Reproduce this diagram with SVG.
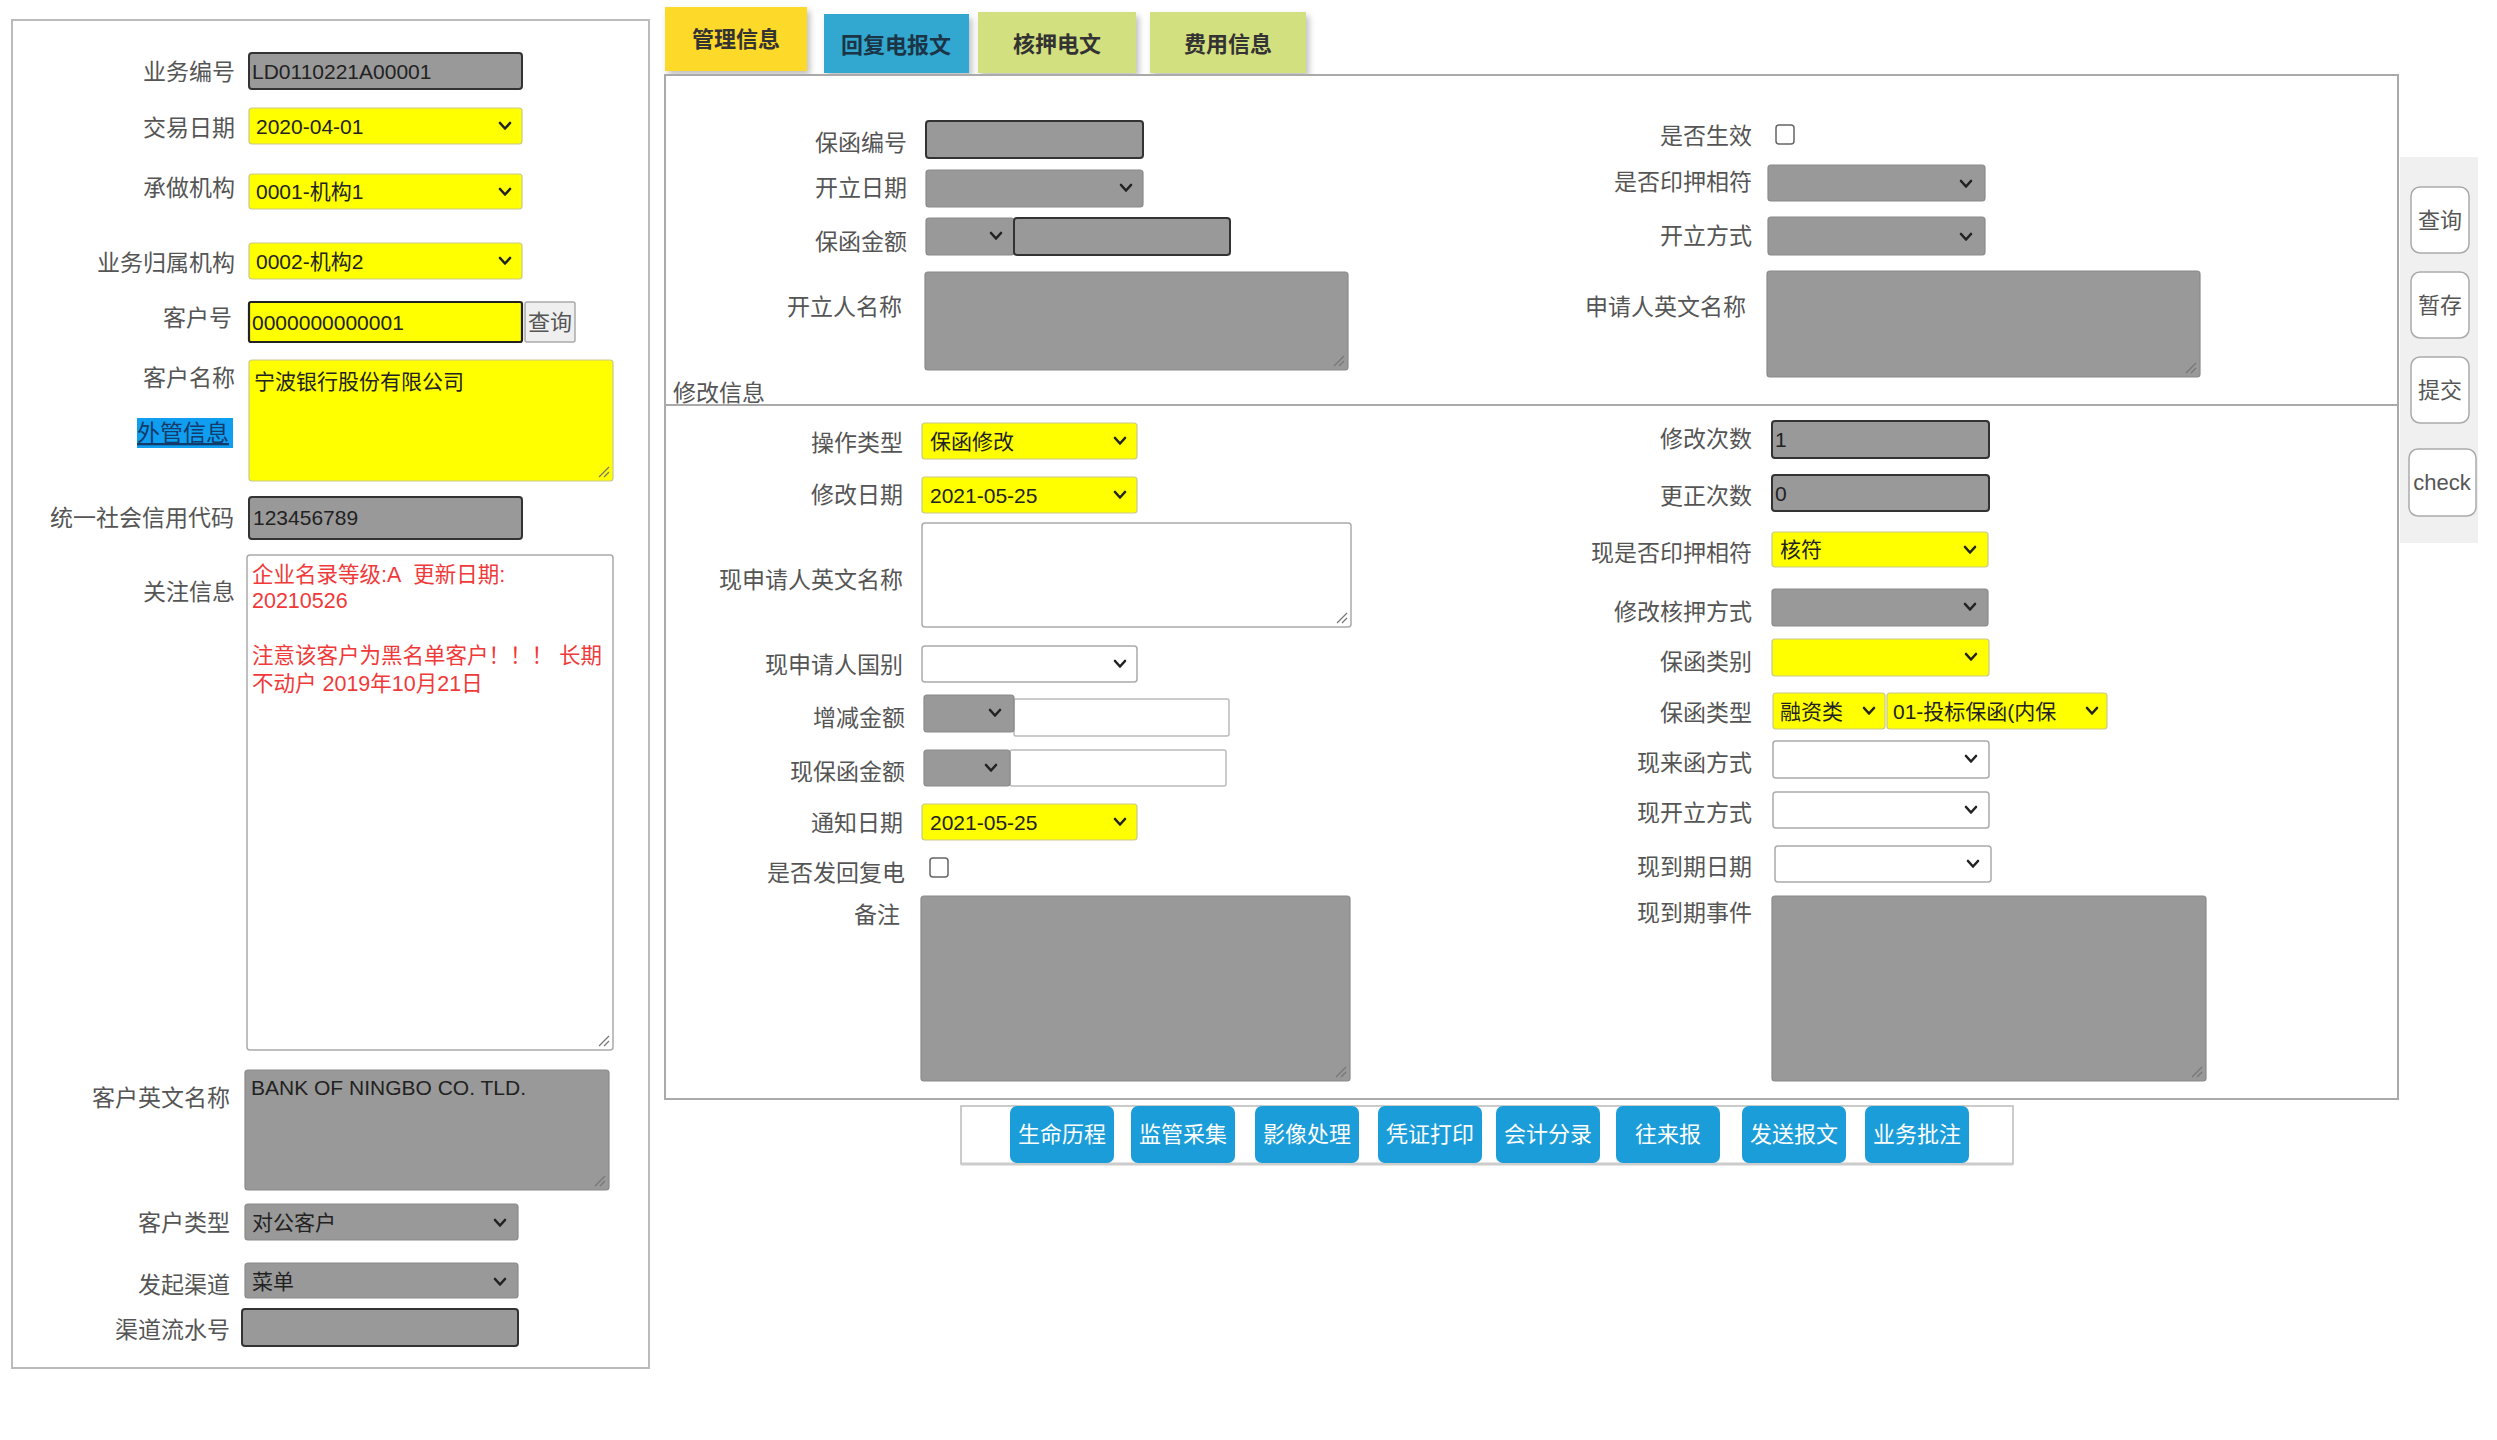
<svg xmlns="http://www.w3.org/2000/svg" xmlns:xlink="http://www.w3.org/1999/xlink" width="2497" height="1440" viewBox="0 0 2497 1440">
<defs>
<style>
text{font-family:"Liberation Sans","Noto Sans CJK SC",sans-serif}
.lbl{font-size:23px;fill:#555;text-anchor:end}
.val{font-size:21px;fill:#222}
.red{font-size:21.5px;fill:#f03a3a}
.g{fill:#999;stroke:#8a8a8a;stroke-width:1.2}
.gi{fill:#999;stroke:#333;stroke-width:2}
.y{fill:#ffff00;stroke:#c9c98c;stroke-width:1.2}
.w{fill:#fff;stroke:#aaa;stroke-width:1.5}
.chev{fill:none;stroke:#222;stroke-width:2.6;stroke-linecap:round;stroke-linejoin:round}
.grip{stroke:#777;stroke-width:1.3}
.tab{font-size:22px;font-weight:bold;text-anchor:middle}
.btn{fill:#1a9dd8}
.btxt{font-size:22px;fill:#fff;text-anchor:middle}
.rbtn{fill:#fff;stroke:#aaa;stroke-width:1.5}
.rtxt{font-size:22px;fill:#555;text-anchor:middle}
.cb{fill:#fff;stroke:#666;stroke-width:1.5}
</style>
<path id="chev" class="chev" d="M-5,-3 L0,2.5 L5,-3"/>
<g id="grip"><line class="grip" x1="-12" y1="-2" x2="-2" y2="-12"/><line class="grip" x1="-7" y1="-2" x2="-2" y2="-7"/></g>
<filter id="sh" x="-10%" y="-10%" width="130%" height="140%"><feDropShadow dx="3" dy="4" stdDeviation="3" flood-color="#000" flood-opacity="0.25"/></filter>
</defs>
<rect width="2497" height="1440" fill="#fff"/>

<g id="left-panel">
<rect x="12" y="20" width="637" height="1348" fill="#fff" stroke="#bbb" stroke-width="2"/>
<g id="f-ywbh"><text class="lbl" x="235" y="80">业务编号</text><rect class="gi" x="249" y="53" width="273" height="36" rx="3"/><text class="val" x="252" y="79">LD0110221A00001</text></g>
<g id="f-jyrq"><text class="lbl" x="235" y="136">交易日期</text><rect class="y" x="249" y="108" width="273" height="36" rx="3"/><text class="val" x="256" y="134">2020-04-01</text><use href="#chev" x="505" y="126"/></g>
<g id="f-czjg"><text class="lbl" x="235" y="196">承做机构</text><rect class="y" x="249" y="174" width="273" height="35" rx="3"/><text class="val" x="256" y="199">0001-机构1</text><use href="#chev" x="505" y="192"/></g>
<g id="f-ywgsjg"><text class="lbl" x="235" y="271">业务归属机构</text><rect class="y" x="249" y="243" width="273" height="36" rx="3"/><text class="val" x="256" y="269">0002-机构2</text><use href="#chev" x="505" y="261"/></g>
<g id="f-khh"><text class="lbl" x="232" y="326">客户号</text><rect x="249" y="302" width="273" height="40" fill="#ffff00" stroke="#222" stroke-width="2.2" rx="2"/><text class="val" x="252" y="330">0000000000001</text><rect x="525" y="302" width="50" height="40" fill="#efefef" stroke="#aaa" stroke-width="1.5" rx="2"/><text class="rtxt" x="550" y="330">查询</text></g>
<g id="f-khmc"><text class="lbl" x="235" y="386">客户名称</text><rect class="y" x="249" y="360" width="364" height="121" rx="3"/><text class="val" x="254" y="389">宁波银行股份有限公司</text><use href="#grip" x="611" y="479"/></g>
<g id="f-wgxx"><rect x="137" y="418" width="96" height="30" fill="#0f9ef0"/><text x="137" y="441" font-size="23" fill="#123a6a" text-decoration="underline">外管信息</text></g>
<g id="f-tyshxydm"><text class="lbl" x="234" y="526">统一社会信用代码</text><rect class="gi" x="249" y="497" width="273" height="42" rx="3"/><text class="val" x="253" y="525">123456789</text></g>
<g id="f-gzxx"><text class="lbl" x="235" y="600">关注信息</text><rect class="w" x="247" y="555" width="366" height="495" rx="3"/>
<text class="red" x="252" y="582">企业名录等级:A&#160;&#160;更新日期:</text>
<text class="red" x="252" y="608">20210526</text>
<text class="red" x="252" y="663">注意该客户为黑名单客户！！！&#160;长期</text>
<text class="red" x="252" y="691">不动户 2019年10月21日</text>
<use href="#grip" x="611" y="1048"/></g>
<g id="f-khywmc"><text class="lbl" x="230" y="1106">客户英文名称</text><rect class="g" x="245" y="1070" width="364" height="120" rx="3"/><text class="val" x="251" y="1095">BANK OF NINGBO CO. TLD.</text><use href="#grip" x="607" y="1188"/></g>
<g id="f-khlx"><text class="lbl" x="230" y="1231">客户类型</text><rect class="g" x="245" y="1204" width="273" height="36" rx="3"/><text class="val" x="252" y="1230">对公客户</text><use href="#chev" x="500" y="1223"/></g>
<g id="f-fqqd"><text class="lbl" x="230" y="1293">发起渠道</text><rect class="g" x="245" y="1263" width="273" height="35" rx="3"/><text class="val" x="252" y="1289">菜单</text><use href="#chev" x="500" y="1282"/></g>
<g id="f-qdlsh"><text class="lbl" x="230" y="1338">渠道流水号</text><rect class="gi" x="242" y="1309" width="276" height="37" rx="3"/></g>
</g>

<g id="tabs">
<g id="tab-glxx"><rect x="665" y="7" width="142" height="64" fill="#fdd92a" filter="url(#sh)"/><text class="tab" x="736" y="47" fill="#333">管理信息</text></g>
<g id="tab-hfdbw"><rect x="824" y="14" width="145" height="59" fill="#33a8d0" filter="url(#sh)"/><text class="tab" x="896" y="53" fill="#1b3446">回复电报文</text></g>
<g id="tab-hydw"><rect x="978" y="12" width="158" height="61" fill="#d3e07f" filter="url(#sh)"/><text class="tab" x="1057" y="52" fill="#333">核押电文</text></g>
<g id="tab-fyxx"><rect x="1150" y="12" width="156" height="61" fill="#d3e07f" filter="url(#sh)"/><text class="tab" x="1228" y="52" fill="#333">费用信息</text></g>
</g>

<g id="main-panel">
<rect x="665" y="75" width="1733" height="1024" fill="#fff" stroke="#aaa" stroke-width="2"/>
<text x="673" y="401" font-size="23" fill="#555">修改信息</text>
<line x1="665" y1="405" x2="2398" y2="405" stroke="#aaa" stroke-width="2"/>
</g>

<g id="top-left-fields">
<g id="f-bhbh"><text class="lbl" x="907" y="151">保函编号</text><rect class="gi" x="926" y="121" width="217" height="37" rx="3"/></g>
<g id="f-klrq"><text class="lbl" x="907" y="196">开立日期</text><rect class="g" x="926" y="170" width="217" height="37" rx="3"/><use href="#chev" x="1126" y="188"/></g>
<g id="f-bhje"><text class="lbl" x="907" y="250">保函金额</text><rect class="g" x="926" y="218" width="88" height="37" rx="3"/><use href="#chev" x="996" y="236"/><rect class="gi" x="1014" y="218" width="216" height="37" rx="3"/></g>
<g id="f-klrmc"><text class="lbl" x="902" y="315">开立人名称</text><rect class="g" x="925" y="272" width="423" height="98" rx="3"/><use href="#grip" x="1346" y="368"/></g>
</g>

<g id="top-right-fields">
<g id="f-sfsx"><text class="lbl" x="1752" y="144">是否生效</text><rect class="cb" x="1776" y="125" width="18" height="19" rx="3"/></g>
<g id="f-sfyyxf"><text class="lbl" x="1752" y="190">是否印押相符</text><rect class="g" x="1768" y="165" width="217" height="36" rx="3"/><use href="#chev" x="1966" y="184"/></g>
<g id="f-klfs"><text class="lbl" x="1752" y="244">开立方式</text><rect class="g" x="1768" y="217" width="217" height="38" rx="3"/><use href="#chev" x="1966" y="237"/></g>
<g id="f-sqrywmc"><text class="lbl" x="1746" y="315">申请人英文名称</text><rect class="g" x="1767" y="271" width="433" height="106" rx="3"/><use href="#grip" x="2198" y="375"/></g>
</g>

<g id="lower-left-fields">
<g id="f-czlx"><text class="lbl" x="903" y="451">操作类型</text><rect class="y" x="922" y="423" width="215" height="36" rx="3"/><text class="val" x="930" y="449">保函修改</text><use href="#chev" x="1120" y="441"/></g>
<g id="f-xgrq"><text class="lbl" x="903" y="503">修改日期</text><rect class="y" x="922" y="477" width="215" height="36" rx="3"/><text class="val" x="930" y="503">2021-05-25</text><use href="#chev" x="1120" y="495"/></g>
<g id="f-xsqrywmc"><text class="lbl" x="903" y="588">现申请人英文名称</text><rect class="w" x="922" y="523" width="429" height="104" rx="3"/><use href="#grip" x="1349" y="625"/></g>
<g id="f-xsqrgb"><text class="lbl" x="903" y="673">现申请人国别</text><rect class="w" x="922" y="646" width="215" height="36" rx="3"/><use href="#chev" x="1120" y="664"/></g>
<g id="f-zjje"><text class="lbl" x="905" y="726">增减金额</text><rect x="1014" y="699" width="215" height="37" fill="#fff" stroke="#bbb" stroke-width="1.5" rx="2"/><rect class="g" x="924" y="695" width="90" height="37" rx="3"/><use href="#chev" x="995" y="713"/></g>
<g id="f-xbhje"><text class="lbl" x="905" y="780">现保函金额</text><rect x="1010" y="750" width="216" height="36" fill="#fff" stroke="#bbb" stroke-width="1.5" rx="2"/><rect class="g" x="924" y="750" width="86" height="36" rx="3"/><use href="#chev" x="991" y="768"/></g>
<g id="f-tzrq"><text class="lbl" x="903" y="831">通知日期</text><rect class="y" x="922" y="804" width="215" height="36" rx="3"/><text class="val" x="930" y="830">2021-05-25</text><use href="#chev" x="1120" y="822"/></g>
<g id="f-sffhfd"><text class="lbl" x="905" y="881">是否发回复电</text><rect class="cb" x="930" y="858" width="18" height="19" rx="3"/></g>
<g id="f-bz"><text class="lbl" x="900" y="923">备注</text><rect class="g" x="921" y="896" width="429" height="185" rx="3"/><use href="#grip" x="1348" y="1079"/></g>
</g>

<g id="lower-right-fields">
<g id="f-xgcs"><text class="lbl" x="1752" y="447">修改次数</text><rect class="gi" x="1772" y="421" width="217" height="37" rx="3"/><text class="val" x="1775" y="447">1</text></g>
<g id="f-gzcs"><text class="lbl" x="1752" y="504">更正次数</text><rect class="gi" x="1772" y="475" width="217" height="36" rx="3"/><text class="val" x="1775" y="501">0</text></g>
<g id="f-xsfyyxf"><text class="lbl" x="1752" y="561">现是否印押相符</text><rect class="y" x="1772" y="532" width="216" height="35" rx="3"/><text class="val" x="1780" y="557">核符</text><use href="#chev" x="1970" y="550"/></g>
<g id="f-xghyfs"><text class="lbl" x="1752" y="620">修改核押方式</text><rect class="g" x="1772" y="589" width="216" height="37" rx="3"/><use href="#chev" x="1970" y="607"/></g>
<g id="f-bhlb"><text class="lbl" x="1752" y="670">保函类别</text><rect class="y" x="1772" y="639" width="217" height="37" rx="3"/><use href="#chev" x="1971" y="657"/></g>
<g id="f-bhlx"><text class="lbl" x="1752" y="721">保函类型</text><rect class="y" x="1773" y="693" width="112" height="36" rx="3"/><text class="val" x="1780" y="719">融资类</text><use href="#chev" x="1869" y="711"/><rect class="y" x="1887" y="693" width="220" height="36" rx="3"/><text class="val" x="1893" y="719">01-投标保函(内保</text><use href="#chev" x="2092" y="711"/></g>
<g id="f-xlhfs"><text class="lbl" x="1752" y="771">现来函方式</text><rect class="w" x="1773" y="741" width="216" height="37" rx="3"/><use href="#chev" x="1971" y="759"/></g>
<g id="f-xklfs"><text class="lbl" x="1752" y="821">现开立方式</text><rect class="w" x="1773" y="792" width="216" height="36" rx="3"/><use href="#chev" x="1971" y="810"/></g>
<g id="f-xdqrq"><text class="lbl" x="1752" y="875">现到期日期</text><rect class="w" x="1775" y="846" width="216" height="36" rx="3"/><use href="#chev" x="1973" y="864"/></g>
<g id="f-xdqsj"><text class="lbl" x="1752" y="921">现到期事件</text><rect class="g" x="1772" y="896" width="434" height="185" rx="3"/><use href="#grip" x="2204" y="1079"/></g>
</g>

<g id="bottom-buttons">
<rect x="961" y="1106" width="1052" height="58" fill="#fff" stroke="#bbb" stroke-width="1.5"/>
<line x1="961" y1="1164" x2="2013" y2="1164" stroke="#ccc" stroke-width="3"/>
<g id="b1"><rect class="btn" x="1010" y="1106" width="104" height="57" rx="7"/><text class="btxt" x="1062" y="1142">生命历程</text></g>
<g id="b2"><rect class="btn" x="1131" y="1106" width="104" height="57" rx="7"/><text class="btxt" x="1183" y="1142">监管采集</text></g>
<g id="b3"><rect class="btn" x="1255" y="1106" width="104" height="57" rx="7"/><text class="btxt" x="1307" y="1142">影像处理</text></g>
<g id="b4"><rect class="btn" x="1378" y="1106" width="104" height="57" rx="7"/><text class="btxt" x="1430" y="1142">凭证打印</text></g>
<g id="b5"><rect class="btn" x="1496" y="1106" width="104" height="57" rx="7"/><text class="btxt" x="1548" y="1142">会计分录</text></g>
<g id="b6"><rect class="btn" x="1616" y="1106" width="104" height="57" rx="7"/><text class="btxt" x="1668" y="1142">往来报</text></g>
<g id="b7"><rect class="btn" x="1742" y="1106" width="104" height="57" rx="7"/><text class="btxt" x="1794" y="1142">发送报文</text></g>
<g id="b8"><rect class="btn" x="1865" y="1106" width="104" height="57" rx="7"/><text class="btxt" x="1917" y="1142">业务批注</text></g>
</g>

<g id="side-buttons">
<rect x="2400" y="157" width="78" height="386" fill="#f0f0f0"/>
<g id="s-cx"><rect class="rbtn" x="2411" y="187" width="58" height="66" rx="9"/><text class="rtxt" x="2440" y="228">查询</text></g>
<g id="s-zc"><rect class="rbtn" x="2411" y="272" width="58" height="66" rx="9"/><text class="rtxt" x="2440" y="313">暂存</text></g>
<g id="s-tj"><rect class="rbtn" x="2411" y="357" width="58" height="66" rx="9"/><text class="rtxt" x="2440" y="398">提交</text></g>
<g id="s-check"><rect class="rbtn" x="2409" y="449" width="67" height="67" rx="9"/><text class="rtxt" x="2442" y="490" font-size="21">check</text></g>
</g>
</svg>
